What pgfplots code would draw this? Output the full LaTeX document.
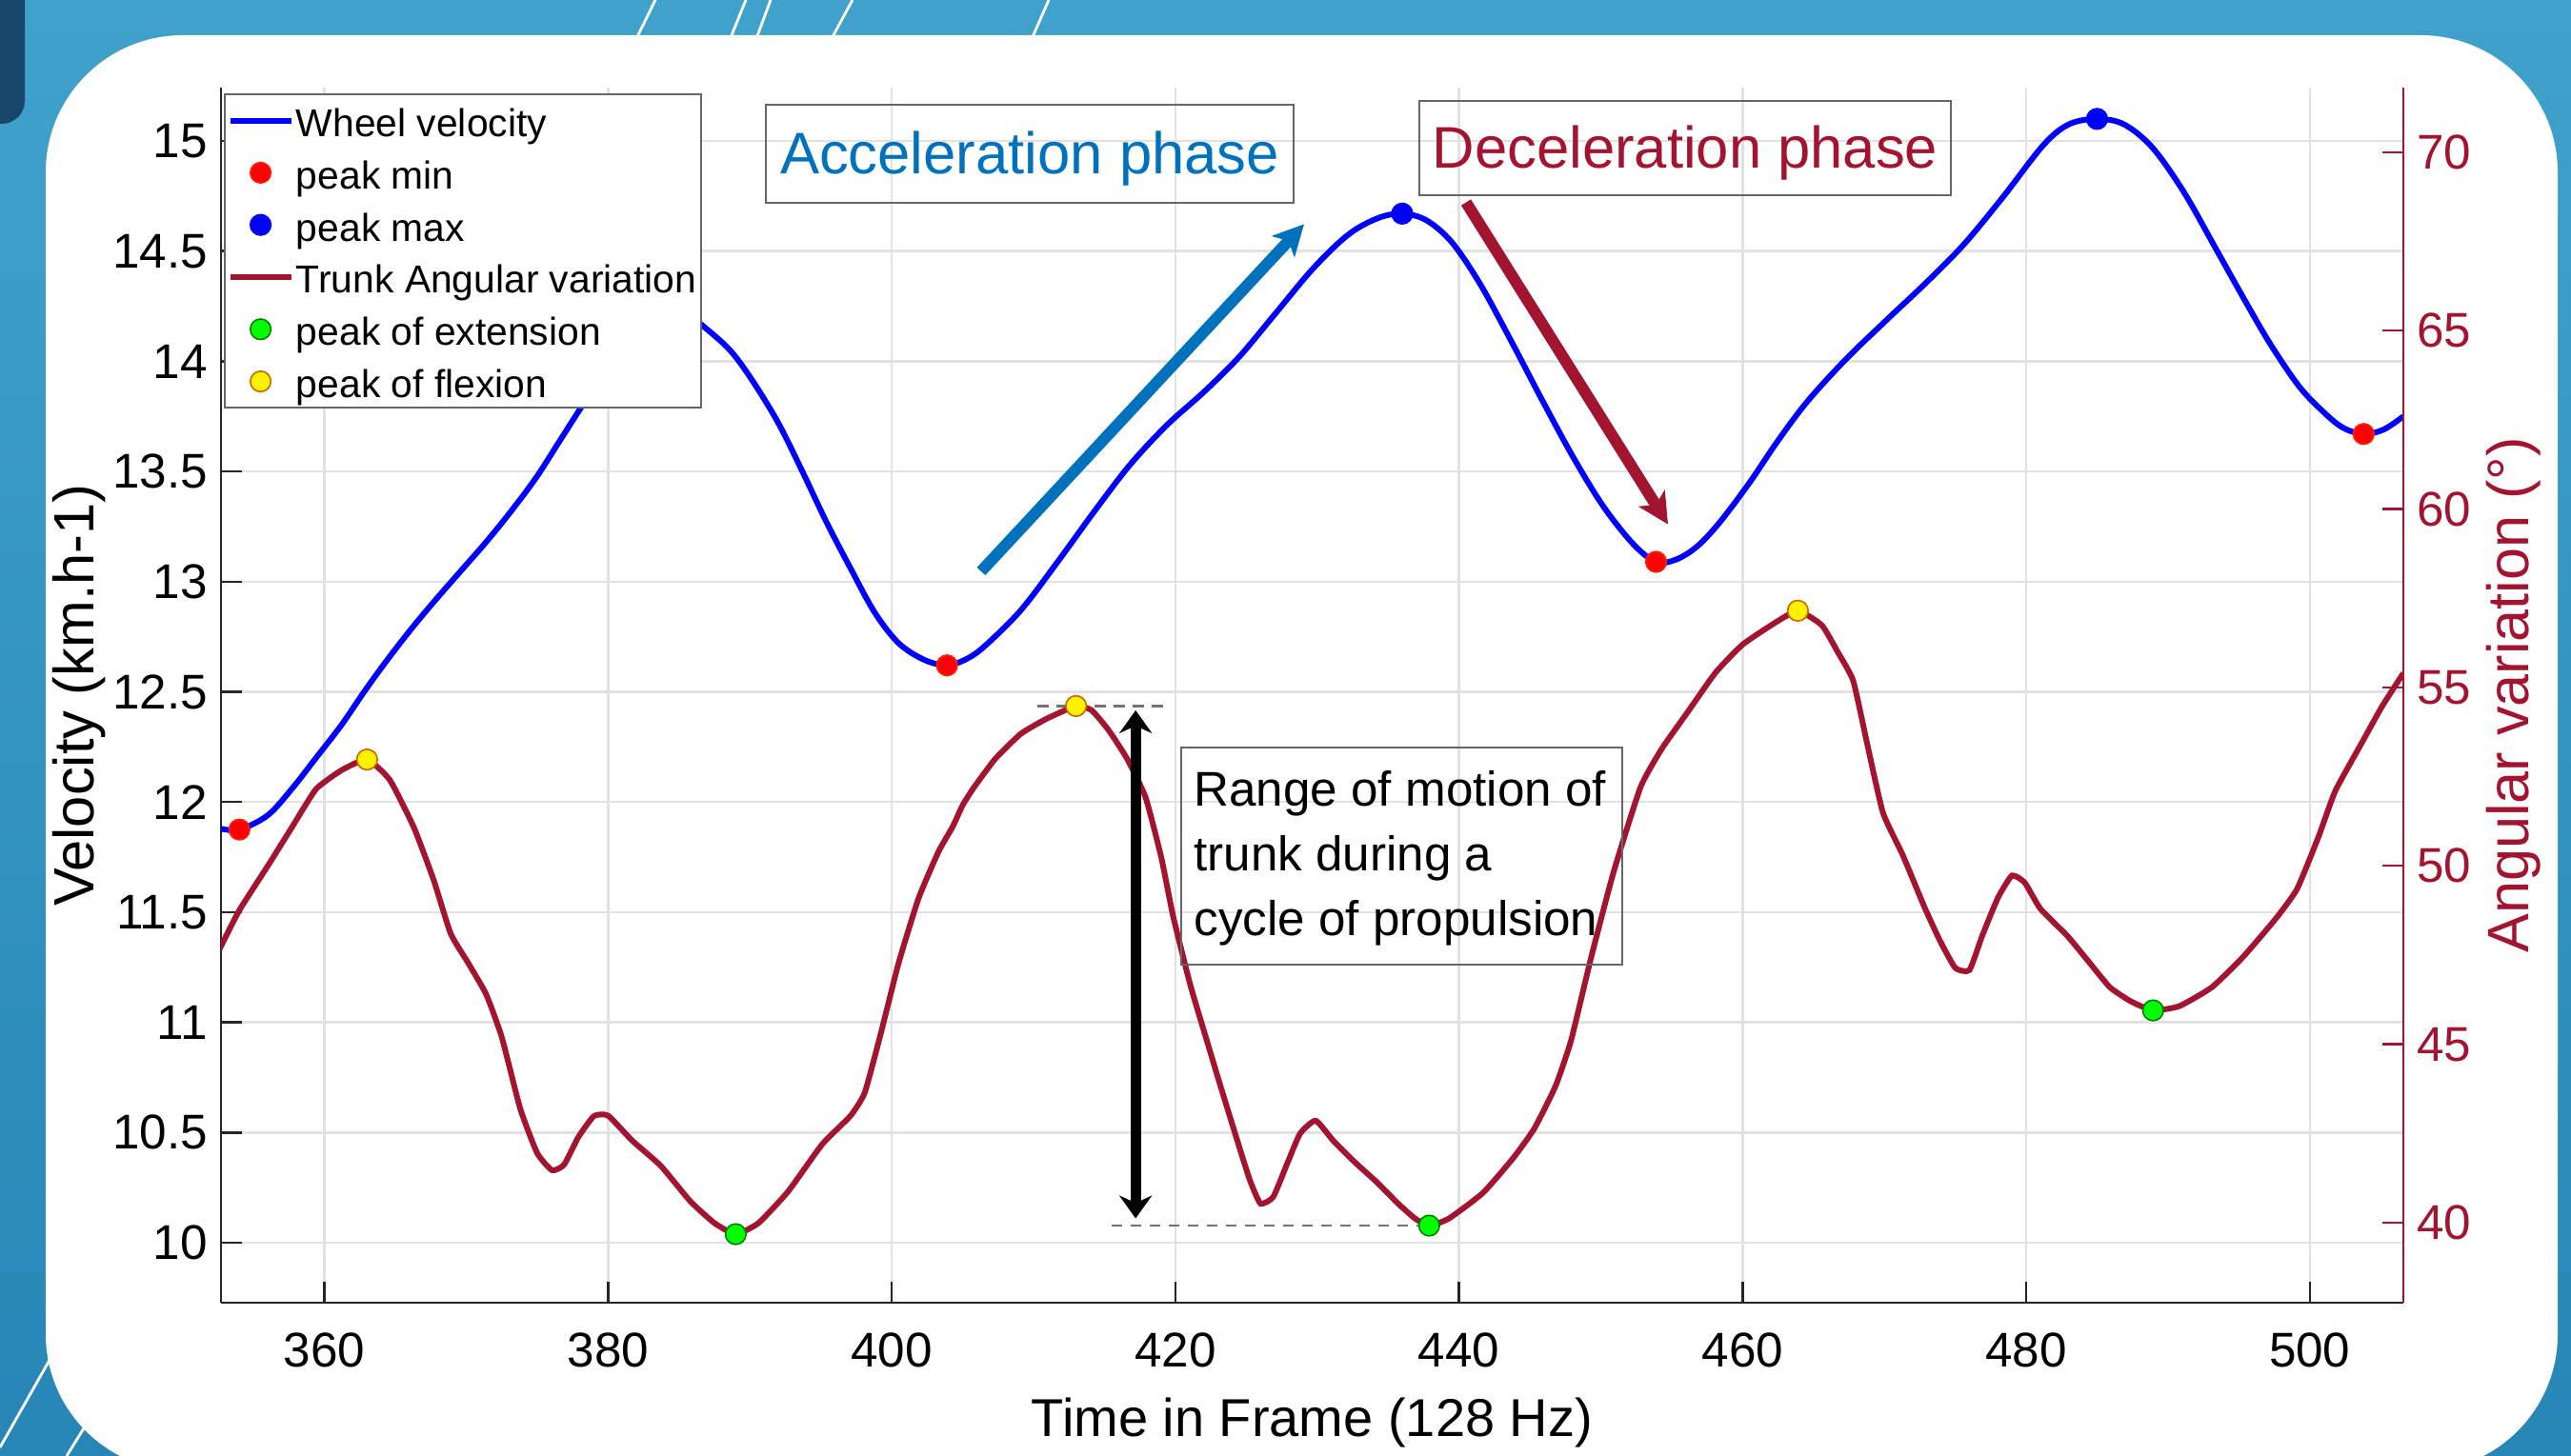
\documentclass[border=0pt]{standalone}
\usepackage{pgfplots}
\pgfplotsset{compat=1.18}
\usepackage{pgfplotstable}
\usepackage{fontspec}
\setmainfont{Liberation Sans}
\usetikzlibrary{arrows.meta}

\definecolor{wheel}{RGB}{0,0,255}
\definecolor{trunk}{RGB}{162,20,47}
\definecolor{accel}{RGB}{0,114,189}
\definecolor{bgtop}{RGB}{64,162,202}
\definecolor{bgbot}{RGB}{40,134,182}
\definecolor{navy}{RGB}{22,70,108}
\definecolor{gridc}{RGB}{226,226,226}
\definecolor{axisc}{RGB}{38,38,38}

% wheel velocity (km/h), left axis
\pgfplotstableread{
frame vel
352.6 11.88
354.0 11.875
356.0 11.94
357.7 12.06
359.4 12.20
361.2 12.35
362.9 12.51
364.6 12.66
366.3 12.80
368.0 12.93
369.7 13.055
371.4 13.18
373.1 13.315
374.9 13.47
376.6 13.64
378.3 13.81
380.0 13.96
381.5 14.08
383.0 14.17
384.5 14.21
386.0 14.19
386.7 14.16
388.6 14.05
390.2 13.91
392.0 13.72
393.7 13.50
395.4 13.27
397.1 13.06
398.8 12.86
400.5 12.72
402.3 12.645
403.9 12.62
405.3 12.65
406.6 12.71
409.1 12.87
411.7 13.09
414.3 13.32
416.8 13.53
419.4 13.71
422.0 13.86
424.5 14.02
427.1 14.22
429.7 14.42
432.2 14.575
434.3 14.65
436.0 14.67
437.7 14.64
439.5 14.54
441.5 14.35
443.7 14.09
445.9 13.82
448.1 13.56
450.2 13.34
452.3 13.17
453.9 13.09
455.3 13.10
456.8 13.16
458.4 13.27
460.5 13.45
462.5 13.64
464.6 13.82
467.3 14.01
470.2 14.19
473.0 14.36
475.6 14.53
478.3 14.74
481.2 14.98
483.0 15.075
485.0 15.10
486.9 15.075
488.9 14.97
491.1 14.77
493.3 14.52
495.3 14.29
497.2 14.08
499.2 13.89
500.8 13.78
502.3 13.70
503.8 13.67
505.2 13.69
506.6 13.75
}\wheeldata

\pgfplotstableread{
frame vel
354.0 11.875
403.9 12.62
453.9 13.09
503.8 13.67
}\peakmin

\pgfplotstableread{
frame vel
384.5 14.21
436.0 14.67
485.0 15.10
}\peakmax

% trunk angular variation (deg), right axis
\pgfplotstableread{
frame ang
352.6 47.67
354.0 48.76
356.0 50.00
357.7 51.08
359.4 52.15
361.2 52.68
363.0 52.98
364.6 52.41
366.3 51.08
367.7 49.60
368.9 48.10
370.1 47.30
371.4 46.40
372.5 45.20
373.8 43.20
375.0 41.95
376.05 41.47
376.9 41.63
377.9 42.40
379.0 42.99
380.0 43.00
381.7 42.30
383.7 41.60
385.8 40.60
387.5 39.99
389.0 39.68
390.6 39.99
392.7 40.88
395.1 42.20
397.1 43.00
398.1 43.65
399.2 45.26
400.5 47.30
401.9 49.10
403.3 50.40
404.3 51.10
405.0 51.70
405.8 52.20
407.3 53.00
409.1 53.70
410.9 54.12
413.0 54.48
414.1 54.36
415.3 53.80
416.6 53.00
417.9 51.92
419.0 50.25
419.85 48.58
421.05 46.67
422.3 45.00
423.1 43.94
424.3 42.39
425.25 41.20
426.0 40.54
426.9 40.72
427.9 41.67
428.8 42.50
429.9 42.86
431.2 42.27
432.7 41.68
434.2 41.14
435.7 40.54
436.9 40.12
437.9 39.92
439.3 40.12
441.7 40.84
443.8 41.80
445.3 42.63
446.8 43.82
447.9 45.10
449.3 47.40
450.9 49.82
452.8 52.20
454.3 53.28
456.2 54.35
458.1 55.42
460.0 56.20
462.2 56.79
463.9 57.15
465.6 56.74
466.7 56.00
467.8 55.19
468.8 53.40
469.9 51.49
471.3 50.30
472.8 48.87
473.9 47.92
475.0 47.14
476.0 47.08
476.9 48.04
478.0 49.10
479.0 49.73
479.9 49.53
481.0 48.80
482.9 48.04
484.4 47.32
485.9 46.60
487.4 46.20
488.95 45.95
490.8 46.07
493.1 46.60
495.3 47.45
497.6 48.52
499.1 49.35
500.6 50.80
501.8 52.10
503.6 53.40
505.1 54.47
506.6 55.40
}\trunkdata

\pgfplotstableread{
frame ang
389.0 39.68
437.9 39.92
488.95 45.95
}\extension

\pgfplotstableread{
frame ang
363.0 52.98
413.0 54.48
463.9 57.15
}\flexion

\pgfplotsset{
  common/.style={
    at={(58pt,40.25pt)}, anchor=south west,
    scale only axis, width=572.75pt, height=319pt,
    xmin=352.7, xmax=506.6,
    tick align=inside, major tick length=5.5pt,
    /pgf/number format/assume math mode=true,
    ticklabel style={font=\fontsize{12.8}{14}\selectfont},
    every outer x axis line/.append style={-},
    every outer y axis line/.append style={-},
    every inner x axis line/.append style={-},
    every inner y axis line/.append style={-},
  },
}

\begin{document}
\begin{tikzpicture}
\useasboundingbox (0,0) rectangle (674.75pt,382.25pt);
% slide background
\shade[top color=bgtop, bottom color=bgbot] (0,0) rectangle (674.75pt,382.25pt);
\fill[navy, rounded corners=6pt] (-12pt,349.75pt) rectangle (6.5pt,395pt);
\begin{scope}[white, line width=0.7pt]
  \draw (172pt,382.25pt) -- (165pt,368pt);
  \draw (195.75pt,382.25pt) -- (190pt,368pt);
  \draw (202.25pt,382.25pt) -- (197pt,368pt);
  \draw (223.75pt,382.25pt) -- (216pt,368pt);
  \draw (275.25pt,382.25pt) -- (269pt,368pt);
  \draw (0pt,2.25pt) -- (18pt,34pt);
  \draw (17.5pt,0pt) -- (28pt,17pt);
\end{scope}
\fill[white, rounded corners=36pt] (12pt,-4pt) rectangle (671.25pt,373pt);

% left axis: wheel velocity
\begin{axis}[common,
  ymin=9.728, ymax=15.242,
  axis x line*=bottom, axis y line*=left,
  xtick pos=bottom, ytick pos=left,
  xtick={360,380,400,420,440,460,480,500},
  ytick={10,10.5,11,11.5,12,12.5,13,13.5,14,14.5,15},
  xmajorgrids, ymajorgrids,
  grid style={gridc, line width=0.6pt},
  axis line style={axisc, line width=0.6pt},
  major tick style={axisc, line width=0.6pt},
  xticklabel style={yshift=-4.5pt},
  xlabel={Time in Frame (128 Hz)},
  ylabel={Velocity (km.h-1)},
  xlabel style={at={(axis description cs:0.5,-0.0988)}, anchor=center,
    font=\fontsize{14}{16}\selectfont},
  ylabel style={at={(axis description cs:-0.065,0.5)}, anchor=center,
    font=\fontsize{14.9}{16}\selectfont},
]
\addplot[wheel, line width=1.5pt, smooth, tension=0.55] table[x=frame, y=vel] {\wheeldata};
\addplot[only marks, mark=*, mark size=2.7pt,
  mark options={fill=red, draw=red!75!orange, line width=0.4pt}]
  table[x=frame, y=vel] {\peakmin};
\addplot[only marks, mark=*, mark size=2.7pt,
  mark options={fill=wheel, draw=wheel, line width=0.4pt}]
  table[x=frame, y=vel] {\peakmax};
\end{axis}

% right axis: trunk angular variation
\begin{axis}[common,
  ymin=37.76, ymax=71.81,
  axis x line=none, axis y line*=right,
  ytick pos=right,
  ytick={40,45,50,55,60,65,70},
  axis line style={trunk, line width=0.6pt},
  major tick style={trunk, line width=0.6pt},
  yticklabel style={text=trunk},
  ylabel={Angular variation (°)},
  ylabel style={at={(axis description cs:1.0506,0.5)}, anchor=center, text=trunk,
    font=\fontsize{15.3}{17}\selectfont},
  legend cell align=left,
  legend style={at={(axis description cs:0.0013,0.9953)}, anchor=north west,
    draw=black!60, line width=0.6pt, fill=white,
    inner xsep=0.6pt, inner ysep=0pt,
    font=\fontsize{10.2}{12}\selectfont,
    nodes={inner sep=0.6pt, text height=10.5pt, text depth=2pt}},
  legend image code/.code={\draw[#1] (0pt,0pt) -- (16pt,0pt);},
]
\addlegendimage{wheel, line width=1.5pt}
\addlegendentry{Wheel velocity}
\addlegendimage{legend image code/.code={\draw[mark=*, mark size=2.7pt,
  mark options={fill=red, draw=red!75!orange, line width=0.4pt}] plot coordinates {(8pt,0pt)};}}
\addlegendentry{peak min}
\addlegendimage{legend image code/.code={\draw[mark=*, mark size=2.7pt,
  mark options={fill=wheel, draw=wheel, line width=0.4pt}] plot coordinates {(8pt,0pt)};}}
\addlegendentry{peak max}
\addlegendimage{trunk, line width=1.5pt}
\addlegendentry{Trunk Angular variation}
\addlegendimage{legend image code/.code={\draw[mark=*, mark size=2.7pt,
  mark options={fill=green, draw=green!50!black, line width=0.4pt}] plot coordinates {(8pt,0pt)};}}
\addlegendentry{peak of extension}
\addlegendimage{legend image code/.code={\draw[mark=*, mark size=2.7pt,
  mark options={fill=yellow, draw=orange!80!black, line width=0.4pt}] plot coordinates {(8pt,0pt)};}}
\addlegendentry{peak of flexion}

\addplot[trunk, line width=1.5pt, forget plot, smooth, tension=0.3]
  table[x=frame, y=ang] {\trunkdata};
\addplot[only marks, mark=*, mark size=2.7pt, forget plot,
  mark options={fill=green, draw=green!50!black, line width=0.4pt}]
  table[x=frame, y=ang] {\extension};
\addplot[only marks, mark=*, mark size=2.7pt, forget plot,
  mark options={fill=yellow, draw=orange!80!black, line width=0.4pt}]
  table[x=frame, y=ang] {\flexion};

% range of motion
\draw[black!55, line width=0.7pt, dash pattern=on 2.8pt off 2.2pt]
  (axis cs:410.3,54.48) -- (axis cs:419.2,54.48);
\draw[black!55, line width=0.7pt, dash pattern=on 2.8pt off 2.2pt]
  (axis cs:415.5,39.92) -- (axis cs:437.2,39.92);
\draw[black, line width=2.7pt,
  {Stealth[length=6pt,width=8.5pt]}-{Stealth[length=6pt,width=8.5pt]}]
  (axis cs:417.2,54.36) -- (axis cs:417.2,40.12);
\end{axis}

% annotations
\draw[black!60, line width=0.6pt] (201pt,329pt) rectangle (339.5pt,354.75pt);
\node[inner sep=0pt, text=accel, font=\fontsize{15.4}{17}\selectfont]
  at (270.25pt,340.6pt) {Acceleration phase};
\draw[black!60, line width=0.6pt] (372.5pt,331pt) rectangle (512pt,355.75pt);
\node[inner sep=0pt, text=trunk, font=\fontsize{15.4}{17}\selectfont]
  at (442.25pt,342.1pt) {Deceleration phase};
\draw[accel, line width=3pt, -{Stealth[length=8pt,width=8pt,inset=2pt]}]
  (257.5pt,232.25pt) -- (342.25pt,323.4pt);
\draw[trunk, line width=3pt, -{Stealth[length=8pt,width=8pt,inset=2pt]}]
  (384.75pt,329.1pt) -- (437.75pt,244.6pt);
\draw[black!60, line width=0.6pt] (310pt,129pt) rectangle (425.75pt,186pt);
\begin{scope}[every node/.style={anchor=base west, inner sep=0pt,
    font=\fontsize{12.8}{15}\selectfont}]
  \node at (313.15pt,170.5pt) {Range of motion of};
  \node at (313.15pt,153.5pt) {trunk during a};
  \node at (313.15pt,136.5pt) {cycle of propulsion};
\end{scope}
\end{tikzpicture}
\end{document}
